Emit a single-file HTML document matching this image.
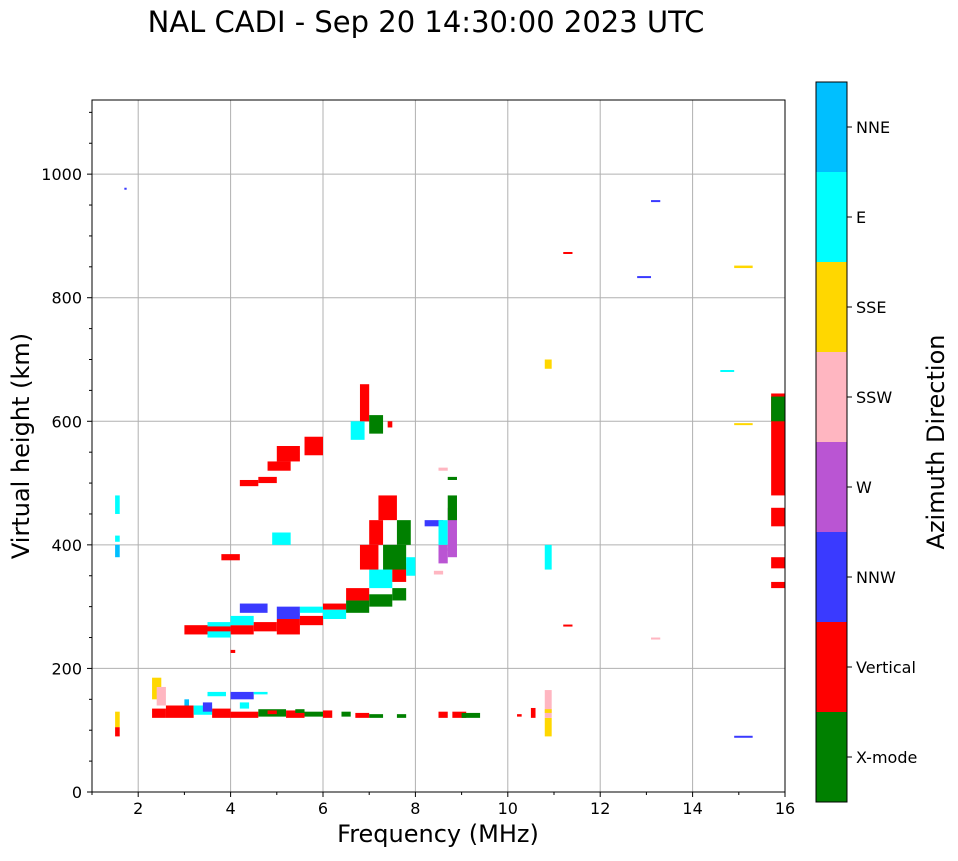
<!DOCTYPE html>
<html><head><meta charset="utf-8"><style>
body{margin:0;background:#fff;font-family:"DejaVu Sans",sans-serif}
svg text{font-family:"DejaVu Sans",sans-serif}
</style></head><body>
<svg id="chart" width="958" height="857" xmlns="http://www.w3.org/2000/svg">
<text x="426" y="32" font-size="29" text-anchor="middle">NAL CADI - Sep 20 14:30:00 2023 UTC</text>
<g id="grid"></g>
<g id="marks"></g>
<rect x="92" y="100" width="693" height="692" fill="none" stroke="#000" stroke-width="1"/>
<g id="axes"></g>
<text x="438" y="842" font-size="24" text-anchor="middle">Frequency (MHz)</text>
<text transform="translate(29,446) rotate(-90)" font-size="24" text-anchor="middle">Virtual height (km)</text>
<g id="cbar"></g>
<text transform="translate(944,442) rotate(-90)" font-size="24" text-anchor="middle">Azimuth Direction</text>
</svg>
<script>
const dirNames=["X-mode","Vertical","NNW","W","SSW","SSE","E","NNE"];
const dirColors=["#008000","#ff0000","#3a3aff","#ba55d3","#ffb6c1","#ffd700","#00ffff","#00bfff"];
const xTicks=[2,4,6,8,10,12,14,16];
const yTicks=[0,200,400,600,800,1000];
// segments: freq start, freq end, height low, height high, direction index
const segF0=[],segF1=[],segH0=[],segH1=[],segD=[];
const segs=[
[2.3,2.6,120,135,1],[2.6,3.2,120,140,1],[3.2,3.6,125,140,6],[3.6,4.0,120,135,1],[4.0,4.6,120,130,1],[4.6,5.2,122,134,0],[5.2,5.6,120,132,1],[5.6,6.0,122,130,0],[6.0,6.2,120,132,1],[6.4,6.6,122,130,0],[6.7,7.0,120,128,1],[7.0,7.3,120,126,0],[7.6,7.8,120,126,0],[8.5,8.7,120,130,1],[8.8,9.1,120,130,1],[9.0,9.4,120,128,0],[10.2,10.3,122,126,1],[10.5,10.6,120,136,1],
[3.5,3.9,155,162,6],[4.0,4.5,150,162,2],[4.5,4.8,158,162,6],[2.3,2.5,150,185,5],[2.4,2.6,140,170,4],[3.0,3.1,140,150,7],[3.4,3.6,130,145,2],[4.2,4.4,135,145,6],[4.8,5.0,126,132,1],[5.4,5.6,128,134,0],
[10.8,10.95,90,120,5],[10.8,10.95,120,165,4],[10.8,10.95,128,134,5],[10.8,10.95,360,400,6],[10.8,10.95,685,700,5],
[1.5,1.6,450,480,6],[1.5,1.6,380,400,7],[1.5,1.6,90,105,1],[1.5,1.6,105,130,5],[1.5,1.6,405,415,6],
[3.0,3.5,255,270,1],[3.5,4.0,250,275,6],[3.5,4.0,260,268,1],[4.0,4.5,255,270,1],[4.0,4.5,270,285,6],[4.2,4.8,290,305,2],[4.5,5.0,260,275,1],[5.0,5.5,255,280,1],[5.0,5.5,280,300,2],[5.5,6.0,270,285,1],[5.5,6.0,290,300,6],[6.0,6.5,295,305,1],[6.0,6.5,280,295,6],[6.5,7.0,290,310,0],[6.5,7.0,310,330,1],[7.0,7.5,300,320,0],[7.0,7.5,330,360,6],[7.5,7.8,310,330,0],[7.5,7.8,340,370,1],[6.8,7.2,360,400,1],[7.0,7.3,400,440,1],[7.2,7.6,440,480,1],[7.3,7.8,360,400,0],[7.6,7.9,400,440,0],[7.8,8.0,350,380,6],[3.8,4.2,375,385,1],[4.9,5.3,400,420,6],
[4.2,4.6,495,505,1],[4.6,5.0,500,510,1],[4.8,5.3,520,535,1],[5.0,5.5,535,560,1],[5.6,6.0,545,575,1],[6.6,6.9,570,600,6],[6.8,7.0,600,660,1],[7.0,7.3,580,610,0],[7.4,7.5,590,600,1],
[8.2,8.6,430,440,2],[8.5,8.7,370,400,3],[8.5,8.7,400,440,6],[8.7,8.9,390,460,3],[8.7,8.9,440,480,0],[8.7,8.9,380,395,3],[8.5,8.7,520,525,4],[8.7,8.9,505,510,0],[8.4,8.6,352,358,4],
[15.7,16,330,340,1],[15.7,16,362,380,1],[15.7,16,430,460,1],[15.7,16,480,645,1],[15.7,16,600,640,0],
[13.1,13.3,955,958,2],[12.8,13.1,832,835,2],[14.9,15.3,848,852,5],[14.6,14.9,680,683,6],[14.9,15.3,594,597,5],[11.2,11.4,872,874,1],[14.9,15.3,88,91,2],[13.1,13.3,247,250,4],[11.2,11.4,268,271,1],[1.7,1.75,975,978,2],[4.0,4.1,225,230,1]
];
segs.forEach(s=>{segF0.push(s[0]);segF1.push(s[1]);segH0.push(s[2]);segH1.push(s[3]);segD.push(s[4]);});
const NS="http://www.w3.org/2000/svg";
const X0=92,X1=785,Y0=792,Y1=100,FMIN=1,FMAX=16,HMIN=0,HMAX=1120;
const xs=f=>X0+(f-FMIN)/(FMAX-FMIN)*(X1-X0);
const ys=h=>Y0-(h-HMIN)/(HMAX-HMIN)*(Y0-Y1);
function mk(tag,attrs,parent){const e=document.createElementNS(NS,tag);for(const k in attrs)e.setAttribute(k,attrs[k]);parent.appendChild(e);return e;}
const grid=document.getElementById('grid'),axes=document.getElementById('axes'),marks=document.getElementById('marks'),cbar=document.getElementById('cbar');
xTicks.forEach(t=>{const x=xs(t);
 if(t<16){const g=mk('line',{x1:x,x2:x,y1:Y1,y2:Y0,stroke:'#b0b0b0','stroke-width':1},grid);}
 const l=mk('line',{x1:x,x2:x,y1:Y0,y2:Y0+5,stroke:'#000'},axes);
 const tx=mk('text',{x:x,y:Y0+22,'font-size':16,'text-anchor':'middle'},axes);tx.textContent=t;});
for(let f=1;f<=15;f+=2){const x=xs(f);const l=mk('line',{x1:x,x2:x,y1:Y0,y2:Y0+3,stroke:'#000'},axes);}
yTicks.forEach(t=>{const y=ys(t);
 if(t>0){const g=mk('line',{x1:X0,x2:X1,y1:y,y2:y,stroke:'#b0b0b0','stroke-width':1},grid);}
 const l=mk('line',{x1:X0-5,x2:X0,y1:y,y2:y,stroke:'#000'},axes);
 const tx=mk('text',{x:X0-10,y:y+6,'font-size':16,'text-anchor':'end'},axes);tx.textContent=t;});
for(let h=50;h<=1100;h+=50){if(h%200===0)continue;const y=ys(h);const l=mk('line',{x1:X0-3,x2:X0,y1:y,y2:y,stroke:'#000'},axes);}
for(let i=0;i<segF0.length;i++){
 const x=xs(segF0[i]),w=Math.max(2,xs(segF1[i])-x),yt=ys(segH1[i]),h=Math.max(2,ys(segH0[i])-yt);
 const r=mk('rect',{x:x,y:yt,width:w,height:h,fill:dirColors[segD[i]]},marks);
 
 }
const CB0=816,CBW=31,CBT=82,CBB=802,seg=(CBB-CBT)/dirNames.length;
dirNames.forEach((n,i)=>{const y=CBB-(i+1)*seg;
 const r=mk('rect',{x:CB0,y:y,width:CBW,height:seg,fill:dirColors[i]},cbar);
 const l=mk('line',{x1:CB0+CBW,x2:CB0+CBW+5,y1:y+seg/2,y2:y+seg/2,stroke:'#000'},cbar);
 const t=mk('text',{x:856,y:y+seg/2+6,'font-size':16},cbar);t.textContent=n;});
const fr=mk('rect',{x:CB0,y:CBT,width:CBW,height:CBB-CBT,fill:'none',stroke:'#000'},cbar);
</script>
</body></html>
